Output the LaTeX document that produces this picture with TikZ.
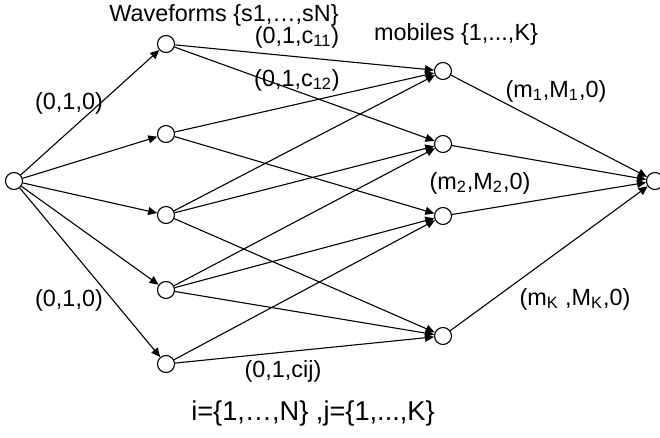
\documentclass[tikz,border=0pt]{standalone}
\usepackage{fontspec}
\setmainfont{Liberation Sans}
\usetikzlibrary{arrows.meta}
\tikzset{
    vert/.style={circle, draw, fill=white, minimum size=8.5pt, inner sep=0pt, line width=0.55pt},
    lbl/.style={font=\fontsize{11.7}{14}\selectfont, inner sep=0pt},
    arr/.style={-{Triangle[length=4.5pt, width=4pt]}, line width=0.55pt},
}
\newcommand{\lo}[1]{\textsubscript{#1}}

\begin{document}
\begin{tikzpicture}[x=0.5pt, y=-0.5pt]
\useasboundingbox (0,0) rectangle (660,438);

% ── Source and sink ──
\node[vert] (src) at (14,181) {};
\node[vert] (snk) at (655,181) {};

% ── Waveforms ──
\node[vert] (w1) at (166,44) {};
\node[vert] (w2) at (166,134) {};
\node[vert] (w3) at (166,215) {};
\node[vert] (w4) at (166,290) {};
\node[vert] (w5) at (166,364) {};

% ── Mobiles ──
\node[vert] (m1) at (443,71) {};
\node[vert] (m2) at (443,144) {};
\node[vert] (m3) at (443,216) {};
\node[vert] (m4) at (443,336) {};

% ── Source to waveforms ──
\draw[arr] (src) -- (w1);
\draw[arr] (src) -- (w2);
\draw[arr] (src) -- (w3);
\draw[arr] (src) -- (w4);
\draw[arr] (src) -- (w5);

% ── Waveforms to mobiles ──
\draw[arr] (w1) -- (m1);
\draw[arr] (w1) -- (m2);
\draw[arr] (w2) -- (m1);
\draw[arr] (w2) -- (m3);
\draw[arr] (w3) -- (m1);
\draw[arr] (w3) -- (m2);
\draw[arr] (w3) -- (m4);
\draw[arr] (w4) -- (m2);
\draw[arr] (w4) -- (m3);
\draw[arr] (w4) -- (m4);
\draw[arr] (w5) -- (m3);
\draw[arr] (w5) -- (m4);

% ── Mobiles to sink ──
\draw[arr] (m1) -- (snk);
\draw[arr] (m2) -- (snk);
\draw[arr] (m3) -- (snk);
\draw[arr] (m4) -- (snk);

% ── Labels ──
\node[lbl] (wavetitle) at (224,15) {Waveforms \{s1,…,sN\}};
\node[lbl] (mobtitle) at (456,34) {mobiles \{1,...,K\}};
\node[lbl] (c11) at (297,37) {(0,1,c\lo{11})};
\node[lbl] (c12) at (297,80) {(0,1,c\lo{12})};
\node[lbl] (srctop) at (69,103) {(0,1,0)};
\node[lbl] (srcbot) at (69,300) {(0,1,0)};
\node[lbl] (cij) at (283,371) {(0,1,cij)};
\node[lbl] (mone) at (556,91) {(m\lo{1},M\lo{1},0)};
\node[lbl] (mtwo) at (480,183) {(m\lo{2},M\lo{2},0)};
\node[lbl] (mkay) at (575,299) {(m\lo{K} ,M\lo{K},0)};
\node[lbl, font=\fontsize{13.6}{16}\selectfont] (ranges) at (313,413) {i=\{1,…,N\} ,j=\{1,...,K\}};

\end{tikzpicture}
\end{document}
